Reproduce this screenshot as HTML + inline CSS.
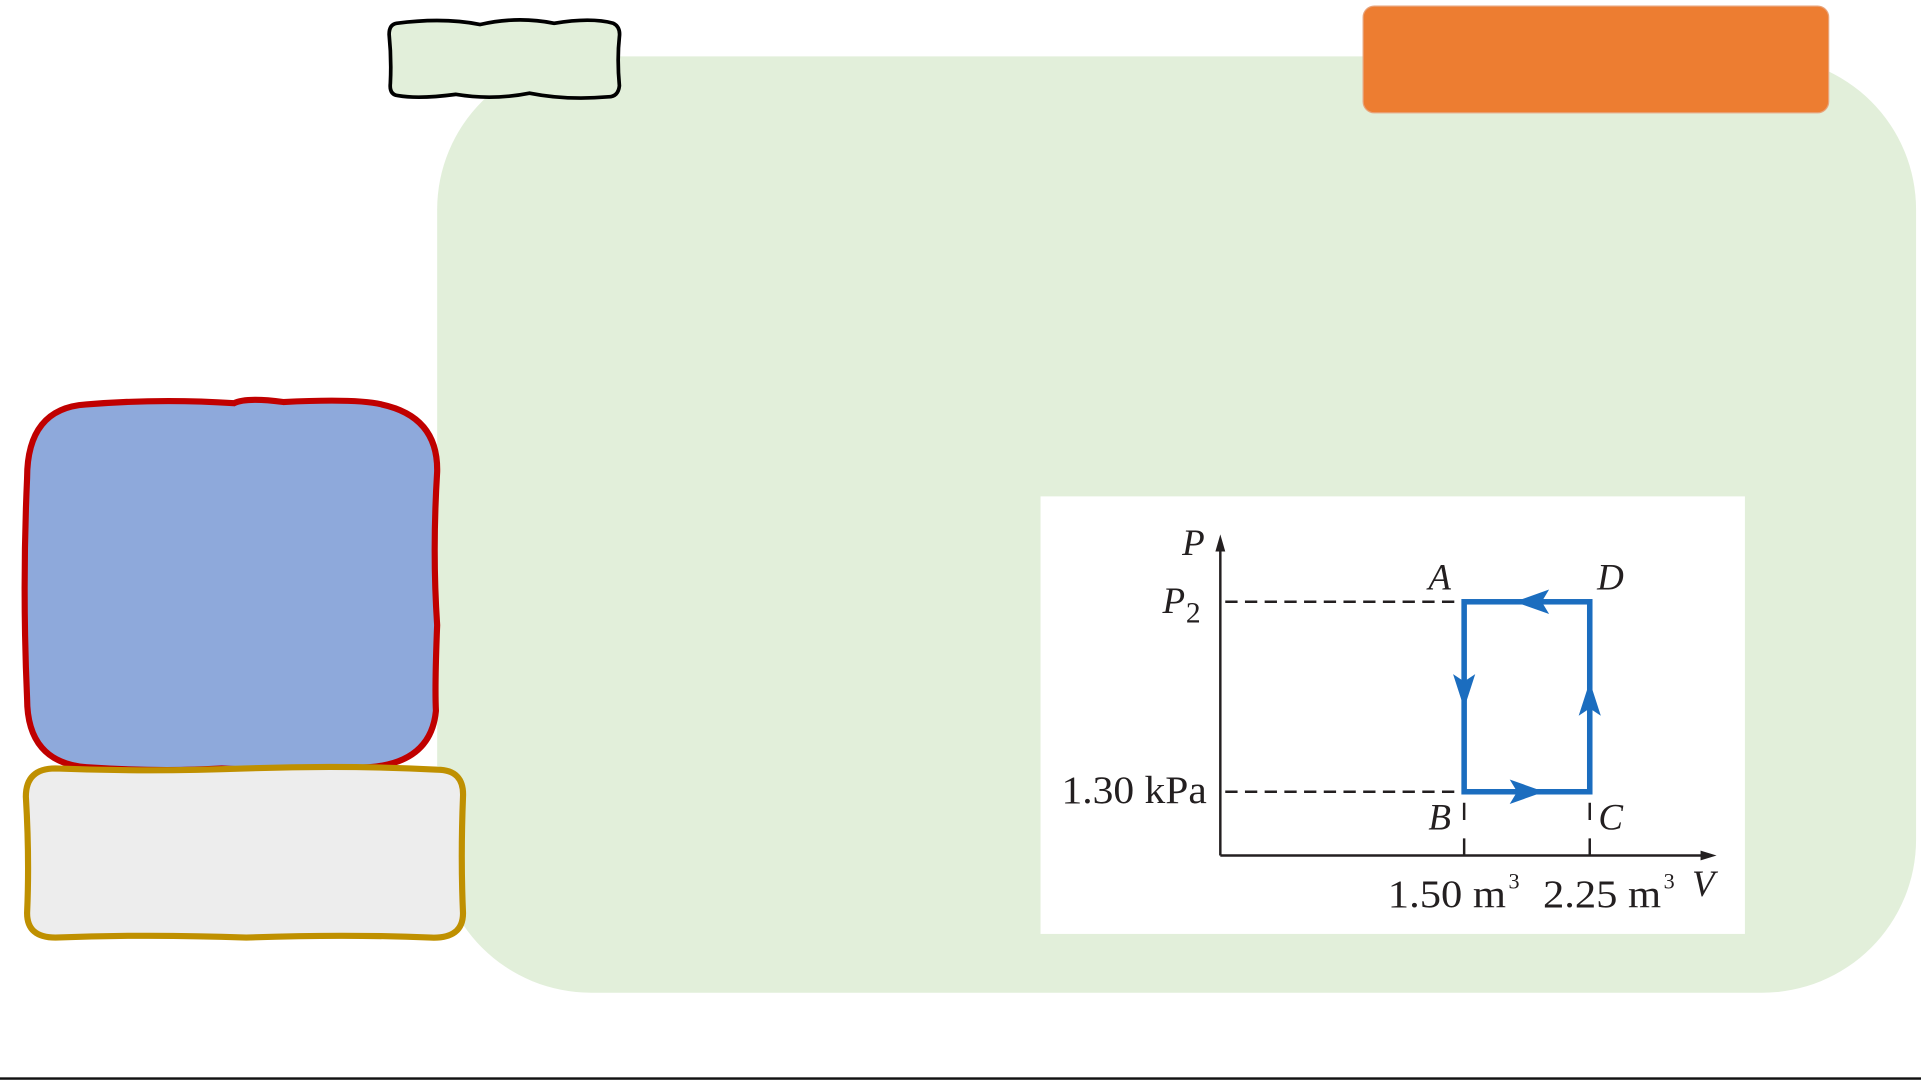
<!DOCTYPE html>
<html><head><meta charset="utf-8"><style>
html,body{margin:0;padding:0;background:#fff;width:1921px;height:1081px;overflow:hidden}
svg{display:block}
text{font-family:"Liberation Serif",serif;fill:#231f20}
</style></head><body>
<svg width="1921" height="1081" viewBox="0 0 1560 882" preserveAspectRatio="none">
<rect x="355" y="46" width="1201" height="764" rx="125" ry="125" fill="#E2EFDA"/>
<rect x="1107" y="5" width="378" height="87" rx="9" fill="#ED7D31" stroke="#e8a37a" stroke-width="1"/>
<path d="M322,19 Q360,14 390,20 Q420,13 450,19 Q480,14 498,19 Q504,22 503,30 Q501,48 503,70 Q502,79 494,79 Q460,82 430,76 Q400,82 370,77 Q340,81 323,78 Q316,77 317,68 Q318,48 316,28 Q316,20 322,19 Z" fill="#E2EFDA" stroke="#000" stroke-width="3"/>
<path d="M70,330 Q130,325 190,329 Q200,324 230,328 Q290,325 310,330 Q356,340 355,385 Q351,450 355,510 Q353,560 354,580 Q350,622 300,626 Q240,630 180,627 Q130,630 70,626 Q22,622 22,570 Q18,480 22,390 Q22,333 70,330 Z" fill="#8EA9DB" stroke="#C00000" stroke-width="5"/>
<path d="M45,627 Q120,630 200,627 Q280,624 355,628 Q377,628 376,650 Q374,700 376,745 Q376,766 350,765 Q280,762 200,765 Q120,762 45,765 Q22,765 22,745 Q24,700 21,650 Q21,627 45,627 Z" fill="#EDEDED" stroke="#BF9000" stroke-width="5"/>
<rect x="845" y="405" width="572" height="357" fill="#fff"/>
<g stroke="#231f20" stroke-width="2" fill="none">
<path d="M991,698 V443"/><path d="M991,698 H1386"/>
<path d="M995,491 H1185" stroke-dasharray="10,6"/>
<path d="M995,646 H1185" stroke-dasharray="10,6"/>
<path d="M1189,655 V669 M1189,684 V698 M1291,655 V669 M1291,684 V698"/>
</g>
<path d="M991,436 L987,450 L995,450 Z" fill="#231f20"/>
<path d="M1394,698 L1381,694 L1381,702 Z" fill="#231f20"/>
<rect x="1189" y="491" width="102" height="155" fill="none" stroke="#1B6DBF" stroke-width="4.5"/>
<path d="M1230,491 L1258,481 L1252,491 L1258,501 Z" fill="#1B6DBF"/>
<path d="M1254,646 L1226,636 L1232,646 L1226,656 Z" fill="#1B6DBF"/>
<path d="M1189,578 L1180,550 L1189,556 L1198,550 Z" fill="#1B6DBF"/>
<path d="M1291,556 L1282,584 L1291,578 L1300,584 Z" fill="#1B6DBF"/>
<g font-size="30" font-style="italic">
<text x="960" y="453">P</text>
<text x="944" y="500">P</text>
<text x="1160" y="481">A</text>
<text x="1297" y="481">D</text>
<text x="1160" y="677">B</text>
<text x="1298" y="677">C</text>
<text x="1374" y="731">V</text>
</g>
<text x="963" y="508" font-size="24">2</text>
<g font-size="32">
<text x="862" y="655" textLength="118" lengthAdjust="spacingAndGlyphs">1.30 kPa</text>
<text x="1127" y="740" textLength="96" lengthAdjust="spacingAndGlyphs">1.50 m</text>
<text x="1253" y="740" textLength="96" lengthAdjust="spacingAndGlyphs">2.25 m</text>
</g>
<text x="1225" y="725" font-size="18">3</text>
<text x="1351" y="725" font-size="18">3</text>
<rect x="0" y="879" width="1560" height="2" fill="#111"/>
</svg>
</body></html>
